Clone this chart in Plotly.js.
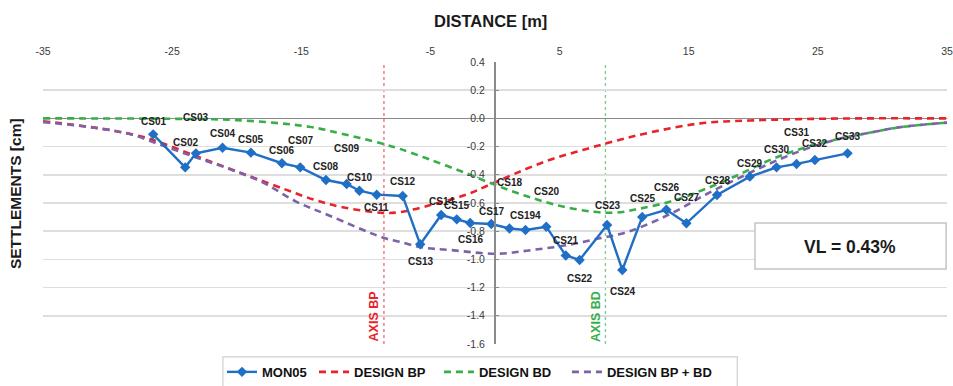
<!DOCTYPE html>
<html>
<head>
<meta charset="utf-8">
<script src="https://cdn.plot.ly/plotly-3.0.1.min.js"></script>
<style>html,body{margin:0;padding:0;background:#fff;}#chart{width:953px;height:386px;}</style>
</head>
<body>
<div id="chart"></div>
<script>
// ---- data ----
const stationNames = ['CS01','CS02','CS03','CS04','CS05','CS06','CS07','CS08','CS09','CS10','CS11','CS12','CS13','CS14','CS15','CS16','CS17','CS18','CS194','CS20','CS21','CS22','CS23','CS24','CS25','CS26','CS27','CS28','CS29','CS30','CS31','CS32','CS33'];
const monX = [-26.47,-23.99,-23.16,-21.1,-18.9,-16.5,-15.08,-13.09,-11.49,-10.5,-9.16,-7.15,-5.79,-4.17,-2.96,-1.92,-0.29,1.12,2.36,3.97,5.48,6.55,8.68,9.86,11.4,13.27,14.82,17.19,19.73,21.8,23.35,24.77,27.3];
const monY = [-0.113,-0.347,-0.248,-0.208,-0.243,-0.318,-0.347,-0.437,-0.465,-0.513,-0.541,-0.55,-0.893,-0.685,-0.716,-0.742,-0.749,-0.781,-0.791,-0.768,-0.972,-1.004,-0.756,-1.075,-0.699,-0.648,-0.744,-0.543,-0.413,-0.347,-0.323,-0.295,-0.248];

const bpX = [-35,-30.7,-27.3,-25.8,-23.2,-20.6,-19,-16.2,-13.9,-11.8,-8.7,-7.4,-4.8,-2.2,-0.4,1.6,4.2,6.8,9.4,12,15.9,19.7,23.6,28,35];
const bpY = [-0.02,-0.07,-0.13,-0.175,-0.265,-0.355,-0.41,-0.505,-0.58,-0.63,-0.67,-0.665,-0.61,-0.54,-0.47,-0.39,-0.295,-0.224,-0.158,-0.1,-0.035,-0.015,-0.005,0,0];

const bdX = [-35,-25,-20,-14.4,-11.8,-8.7,-7.4,-5.1,-2.2,0.1,2.4,5.0,7.6,9.4,11.2,13.8,16.6,19.0,21.5,24.1,26.7,29.3,31.4,35];
const bdY = [0,-0.003,-0.012,-0.059,-0.11,-0.18,-0.215,-0.29,-0.39,-0.475,-0.55,-0.62,-0.662,-0.668,-0.64,-0.584,-0.489,-0.394,-0.287,-0.204,-0.144,-0.097,-0.062,-0.03];

const sumX = [-35,-30.7,-28.3,-25.8,-23.2,-20.6,-18,-15.4,-12.8,-8.7,-7.4,-5.6,-3.5,0.1,2.9,5.5,8.1,9.7,11.2,13.8,16.4,19,21.5,24.1,26.7,29.3,31.4,35];
const sumY = [-0.026,-0.07,-0.11,-0.19,-0.275,-0.358,-0.453,-0.59,-0.69,-0.845,-0.875,-0.916,-0.933,-0.96,-0.933,-0.9,-0.85,-0.82,-0.774,-0.667,-0.536,-0.418,-0.311,-0.216,-0.144,-0.097,-0.062,-0.03];

const axisLineX = [-8.6, 8.55];
const axisLineNames = ['AXIS BP', 'AXIS BD'];
const seriesNames = ['MON05', 'DESIGN BP', 'DESIGN BD', 'DESIGN BP + BD'];
const xTickVals = [-35,-25,-15,-5,5,15,25,35];
const xTickText = ['-35','-25','-15','-5','5','15','25','35'];
const yTickVals = [0.4,0.2,0,-0.2,-0.4,-0.6,-0.8,-1.0,-1.2,-1.4,-1.6];
const yTickText = ['0.4','0.2','0.0','-0.2','-0.4','-0.6','-0.8','-1.0','-1.2','-1.4','-1.6'];
const vlText = 'VL = 0.43%';

// ---- label placement (pixels, up positive) ----
const labelShift = [13,25,36,14,13,13,27,14,35,13,-13,14,-17,13,14,-16,13,46,14,35,15,-19,20,-22,18,22,26,14,13,18,31,17,17];

const FONT = 'Liberation Sans, Arial, sans-serif';
const C_BLUE = '#1f6fc6', C_RED = '#e8232a', C_GREEN = '#37ae48', C_PURPLE = '#7d62a8';

const dashed = (c) => ({color: c, width: 2.6, dash: '7px,5px', shape: 'spline', smoothing: 1});

const traces = [
  {x: bpX, y: bpY, name: seriesNames[1], mode: 'lines', line: dashed(C_RED), legend: 'legend2', hoverinfo: 'skip'},
  {x: bdX, y: bdY, name: seriesNames[2], mode: 'lines', line: dashed(C_GREEN), legend: 'legend3', hoverinfo: 'skip'},
  {x: sumX, y: sumY, name: seriesNames[3], mode: 'lines', line: dashed(C_PURPLE), legend: 'legend4', hoverinfo: 'skip'},
  {x: monX, y: monY, name: seriesNames[0], mode: 'lines+markers', line: {color: C_BLUE, width: 2.4},
   marker: {symbol: 'diamond', size: 8, color: C_BLUE}, legend: 'legend', text: stationNames}
];

const annotations = stationNames.map((n, i) => ({
  x: monX[i], y: monY[i], xref: 'x', yref: 'y', text: n, showarrow: false,
  yshift: labelShift[i], font: {family: FONT, size: 10, color: '#222', weight: 'bold'}
}));

axisLineNames.forEach((t, i) => annotations.push({
  x: axisLineX[i], y: -1.405, xref: 'x', yref: 'y', text: t, showarrow: false, textangle: -90,
  xshift: -10, font: {family: FONT, size: 12.5, color: i === 0 ? C_RED : C_GREEN, weight: 'bold'}
}));

annotations.push({x: 0.4945, y: 1.145, xref: 'paper', yref: 'paper', text: 'DISTANCE [m]', showarrow: false,
  xanchor: 'center', yanchor: 'middle', font: {family: FONT, size: 16.5, color: '#1a1a1a', weight: 'bold'}});
annotations.push({x: -0.031, y: 0.535, xref: 'paper', yref: 'paper', text: 'SETTLEMENTS [cm]', showarrow: false,
  textangle: -90, xanchor: 'center', yanchor: 'middle', font: {family: FONT, size: 15.5, color: '#1a1a1a', weight: 'bold'}});
annotations.push({x: 0.8927, y: 0.344, xref: 'paper', yref: 'paper', text: vlText, showarrow: false,
  xanchor: 'center', yanchor: 'middle', font: {family: FONT, size: 17.5, color: '#1a1a1a', weight: 'bold'}});

const shapes = axisLineX.map((v, i) => ({
  type: 'line', xref: 'x', yref: 'y', x0: v, x1: v, y0: -1.6, y1: 0.4, layer: 'below',
  line: {color: i === 0 ? '#ef6a6e' : '#7cc78a', width: 1.3, dash: 'dot'}
}));
shapes.push({type: 'rect', xref: 'paper', yref: 'paper', x0: 0.7876, x1: 0.999, y0: 0.266, y1: 0.429,
  line: {color: '#c4c4c4', width: 1.5}, fillcolor: '#ffffff', layer: 'above'});
shapes.push({type: 'rect', xref: 'paper', yref: 'paper', x0: 0.199, x1: 0.768, y0: -0.046, y1: -0.2,
  line: {color: '#d0d0d0', width: 1.2}, fillcolor: 'rgba(0,0,0,0)', layer: 'above'});

const legBase = {orientation: 'h', yanchor: 'middle', y: -0.099, xanchor: 'left', bgcolor: 'rgba(0,0,0,0)',
  borderwidth: 0, font: {family: FONT, size: 13, color: '#111', weight: 'bold'}};

const layout = {
  width: 953, height: 386,
  margin: {l: 43, r: 6, t: 62, b: 42, pad: 0, autoexpand: false},
  paper_bgcolor: '#ffffff', plot_bgcolor: '#ffffff',
  font: {family: FONT},
  showlegend: true,
  xaxis: {range: [-35, 35], side: 'top', tickmode: 'array', tickvals: xTickVals, ticktext: xTickText,
    showgrid: false, zeroline: false, showline: false, ticks: '', ticklabelstandoff: 4, automargin: false,
    tickfont: {family: FONT, size: 10.5, color: '#3a3a3a'}, fixedrange: true},
  xaxis2: {range: [-35, 35], overlaying: 'x', anchor: 'free', position: 0.8, side: 'bottom',
    tickmode: 'array', tickvals: xTickVals, showticklabels: false, ticks: 'inside', ticklen: 3,
    tickcolor: '#8c8c8c', tickwidth: 1, showgrid: false, zeroline: false, showline: false},
  yaxis: {range: [-1.6, 0.4], anchor: 'free', position: 0.5, tickmode: 'array', tickvals: yTickVals, ticktext: yTickText,
    showgrid: true, gridcolor: '#dedede', gridwidth: 1.6, zeroline: true, zerolinecolor: '#8a8a8a', zerolinewidth: 1.6,
    showline: true, linecolor: '#8a8a8a', linewidth: 2, ticks: 'inside', ticklen: 3, tickcolor: '#8a8a8a', automargin: false,
    ticklabelstandoff: 7, tickfont: {family: FONT, size: 10.5, color: '#3a3a3a'}, fixedrange: true},
  legend: Object.assign({}, legBase, {x: 0.198}),
  legend2: Object.assign({}, legBase, {x: 0.2998}),
  legend3: Object.assign({}, legBase, {x: 0.438}),
  legend4: Object.assign({}, legBase, {x: 0.5796}),
  annotations: annotations,
  shapes: shapes
};

Plotly.newPlot('chart', traces, layout, {displayModeBar: false, staticPlot: true});
</script>
</body>
</html>
